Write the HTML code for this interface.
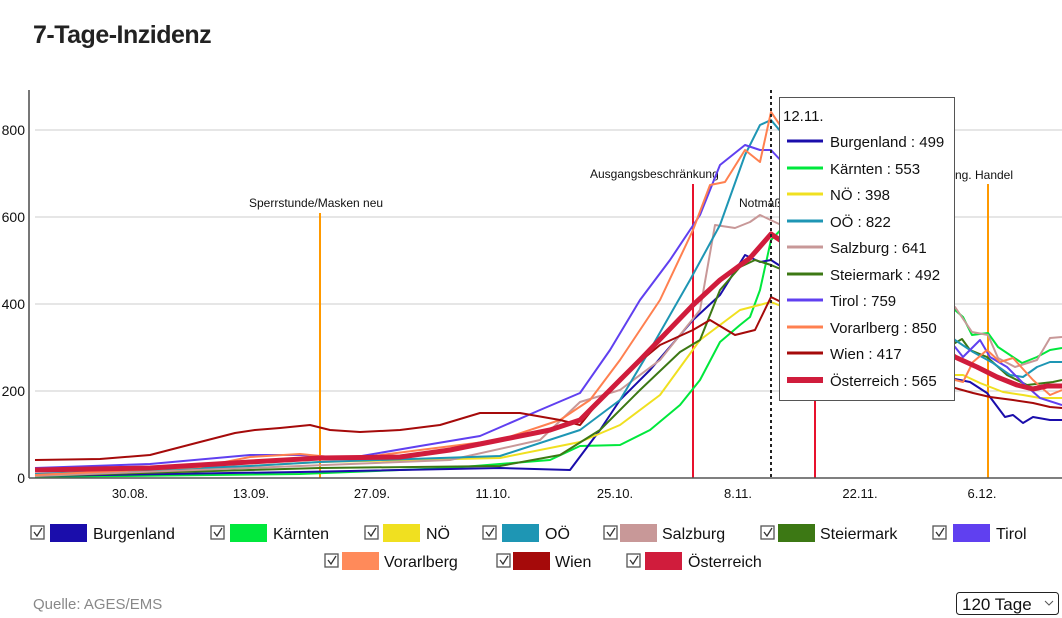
<!DOCTYPE html>
<html><head><meta charset="utf-8"><style>
html,body{margin:0;padding:0;background:#fff;width:1062px;height:618px;overflow:hidden}
svg{display:block;font-family:"Liberation Sans",sans-serif}
</style></head><body>
<svg width="1062" height="618" viewBox="0 0 1062 618">
<text x="33" y="43" font-size="25" font-weight="bold" fill="#222" letter-spacing="-0.5">7-Tage-Inzidenz</text>
<g stroke="#ccc" stroke-width="1">
<line x1="35" y1="130" x2="1062" y2="130"/><line x1="35" y1="217" x2="1062" y2="217"/>
<line x1="35" y1="304" x2="1062" y2="304"/><line x1="35" y1="391" x2="1062" y2="391"/>
</g>
<g font-size="14" fill="#111" text-anchor="end">
<text x="25" y="135">800</text><text x="25" y="222">600</text><text x="25" y="309">400</text><text x="25" y="396">200</text><text x="25" y="483">0</text>
</g>
<line x1="29" y1="90" x2="29" y2="478" stroke="#777" stroke-width="2"/>
<g font-size="13" fill="#111" text-anchor="middle">
<text x="130" y="498">30.08.</text><text x="251" y="498">13.09.</text><text x="372" y="498">27.09.</text><text x="493" y="498">11.10.</text><text x="615" y="498">25.10.</text><text x="738" y="498">8.11.</text><text x="860" y="498">22.11.</text><text x="982" y="498">6.12.</text>
</g>
<g font-size="12" fill="#111">
<text x="249" y="207">Sperrstunde/Masken neu</text>
<text x="590" y="178">Ausgangsbeschränkung</text>
<text x="739" y="207">Notmaßnahmen</text>
<text x="1013" y="179" text-anchor="end">Lockerung. Handel</text>
</g>
<g stroke-width="2" fill="none">
<line x1="320" y1="213" x2="320" y2="478" stroke="#ff9900"/>
<line x1="693" y1="184" x2="693" y2="478" stroke="#e8112d"/>
<line x1="815" y1="213" x2="815" y2="478" stroke="#e8112d"/>
<line x1="988" y1="184" x2="988" y2="478" stroke="#ff9900"/>
</g>
<g fill="none" stroke-width="2" stroke-linejoin="round">
<polyline stroke="#00e83c" points="35,477 300,474 450,468 550,460 580,446 620,445 650,430 680,405 700,380 720,342 740,325 750,317 760,290 771,240 790,220 955,310 963,317 972,335 988,333 998,347 1022,363 1037,357 1050,350 1062,348"/>
<polyline stroke="#1a0dab" points="35,476 300,472 500,468 570,470 600,430 620,400 650,370 693,320 720,295 745,255 760,262 771,260 955,379 970,382 987,393 1005,417 1013,415 1023,423 1033,417 1050,420 1062,420"/>
<polyline stroke="#f0e020" points="35,475 250,466 320,462 500,458 580,442 620,425 660,395 700,340 740,310 771,302 955,375 963,375 980,383 1003,392 1023,395 1040,398 1062,398"/>
<polyline stroke="#3c7814" points="35,476 320,468 500,466 560,455 600,430 640,390 680,352 700,340 720,290 740,267 755,260 771,265 955,343 962,339 970,350 987,357 1007,375 1027,385 1053,382 1062,380"/>
<polyline stroke="#c89898" points="35,476 300,466 450,460 540,440 580,402 620,390 660,360 700,310 715,225 735,228 750,222 760,215 955,307 972,332 988,335 998,358 1015,367 1037,360 1050,338 1062,337"/>
<polyline stroke="#1e96b4" points="35,474 250,466 320,462 500,456 580,430 620,400 650,350 690,280 720,225 745,155 760,125 771,120 955,340 973,352 993,363 1010,375 1023,377 1037,367 1050,362 1062,362"/>
<polyline stroke="#6040f0" points="35,468 150,464 250,455 300,455 350,458 420,446 480,436 540,410 580,393 610,350 640,300 670,260 700,215 720,165 745,145 760,150 771,150 955,347 963,357 980,340 990,357 1007,367 1023,383 1040,398 1062,405"/>
<polyline stroke="#ff8050" points="35,475 200,467 250,457 300,454 350,459 420,450 500,440 560,420 590,400 620,360 660,300 693,230 710,185 725,182 745,150 760,162 771,112 955,380 963,382 973,362 987,350 1000,362 1013,358 1033,380 1050,395 1062,390"/>
<polyline stroke="#a50a0a" points="35,460 100,459 150,455 200,442 235,433 255,430 280,428 310,425 330,430 360,432 400,430 440,425 480,413 520,413 560,420 580,425 600,400 620,378 660,345 693,330 710,320 735,335 755,330 771,297 955,388 973,393 990,397 1013,400 1033,403 1050,407 1062,408"/>
<polyline stroke="#d01c3c" stroke-width="5" points="35,470 150,468 250,462 320,458 400,457 450,450 500,440 550,430 580,420 600,400 640,360 693,305 720,280 750,258 771,234 955,357 977,367 997,377 1017,385 1033,389 1047,386 1062,386"/>
</g>
<line x1="29" y1="478" x2="1062" y2="478" stroke="#555" stroke-width="1.5"/>
<line x1="771" y1="90" x2="771" y2="478" stroke="#222" stroke-width="2" stroke-dasharray="3,3"/>
<rect x="779.5" y="97.5" width="175" height="303" fill="#fff" stroke="#555" stroke-width="1"/>
<g font-size="15" fill="#111">
<text x="783" y="121">12.11.</text>
<g stroke-width="3">
<line x1="787" y1="141" x2="823" y2="141" stroke="#1a0dab"/><text x="830" y="147" stroke="none">Burgenland : 499</text>
<line x1="787" y1="168" x2="823" y2="168" stroke="#00e83c"/><text x="830" y="174" stroke="none">Kärnten : 553</text>
<line x1="787" y1="194" x2="823" y2="194" stroke="#f0e020"/><text x="830" y="200" stroke="none">NÖ : 398</text>
<line x1="787" y1="221" x2="823" y2="221" stroke="#1e96b4"/><text x="830" y="227" stroke="none">OÖ : 822</text>
<line x1="787" y1="247" x2="823" y2="247" stroke="#c89898"/><text x="830" y="253" stroke="none">Salzburg : 641</text>
<line x1="787" y1="274" x2="823" y2="274" stroke="#3c7814"/><text x="830" y="280" stroke="none">Steiermark : 492</text>
<line x1="787" y1="300" x2="823" y2="300" stroke="#6040f0"/><text x="830" y="306" stroke="none">Tirol : 759</text>
<line x1="787" y1="327" x2="823" y2="327" stroke="#ff8050"/><text x="830" y="333" stroke="none">Vorarlberg : 850</text>
<line x1="787" y1="353" x2="823" y2="353" stroke="#a50a0a"/><text x="830" y="359" stroke="none">Wien : 417</text>
<line x1="787" y1="380" x2="823" y2="380" stroke="#d01c3c" stroke-width="6"/><text x="830" y="386" stroke="none">Österreich : 565</text>
</g></g>
<g font-size="16" fill="#111">
<g fill="none" stroke="#555" stroke-width="1.3">
<rect x="31" y="526" width="13" height="13"/><rect x="211" y="526" width="13" height="13"/><rect x="365" y="526" width="13" height="13"/><rect x="483" y="526" width="13" height="13"/><rect x="604" y="526" width="13" height="13"/><rect x="761" y="526" width="13" height="13"/><rect x="933" y="526" width="13" height="13"/>
<rect x="325" y="554" width="13" height="13"/><rect x="497" y="554" width="13" height="13"/><rect x="627" y="554" width="13" height="13"/>
</g>
<g fill="none" stroke="#333" stroke-width="1.3">
<path d="M34 532l3 4 5-8"/><path d="M214 532l3 4 5-8"/><path d="M368 532l3 4 5-8"/><path d="M486 532l3 4 5-8"/><path d="M607 532l3 4 5-8"/><path d="M764 532l3 4 5-8"/><path d="M936 532l3 4 5-8"/>
<path d="M328 560l3 4 5-8"/><path d="M500 560l3 4 5-8"/><path d="M630 560l3 4 5-8"/>
</g>
<rect x="50" y="524" width="37" height="18" fill="#1a0dab"/><text x="93" y="539">Burgenland</text>
<rect x="230" y="524" width="37" height="18" fill="#00e83c"/><text x="273" y="539">Kärnten</text>
<rect x="383" y="524" width="37" height="18" fill="#f0e020"/><text x="426" y="539">NÖ</text>
<rect x="502" y="524" width="37" height="18" fill="#1e96b4"/><text x="545" y="539">OÖ</text>
<rect x="620" y="524" width="37" height="18" fill="#c89898"/><text x="662" y="539">Salzburg</text>
<rect x="778" y="524" width="37" height="18" fill="#3c7814"/><text x="820" y="539">Steiermark</text>
<rect x="953" y="524" width="37" height="18" fill="#6040f0"/><text x="996" y="539">Tirol</text>
<rect x="342" y="552" width="37" height="18" fill="#ff8a5a"/><text x="384" y="567">Vorarlberg</text>
<rect x="513" y="552" width="37" height="18" fill="#a50a0a"/><text x="555" y="567">Wien</text>
<rect x="645" y="552" width="37" height="18" fill="#d01c3c"/><text x="688" y="567">Österreich</text>
</g>
<text x="33" y="609" font-size="15" fill="#888">Quelle: AGES/EMS</text>
<rect x="956.5" y="592.5" width="102" height="22" rx="3" fill="#fff" stroke="#222"/>
<text x="962" y="610" font-size="17" fill="#111">120 Tage</text>
<path d="M1045 601l4 4 4-4" fill="none" stroke="#555" stroke-width="1"/>
</svg>
</body></html>
